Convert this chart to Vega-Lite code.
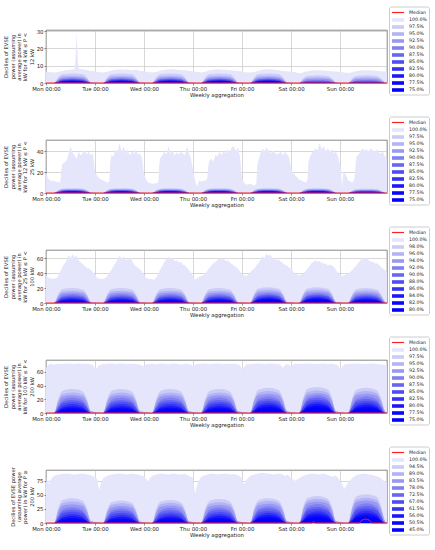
{
  "$schema": "https://vega.github.io/schema/vega-lite/v6.json",
  "padding": {"top": 5, "left": 3, "right": 2, "bottom": 2},
  "bounds": "flush",
  "spacing": 57,
  "config": {
    "font": "DejaVu Sans",
    "background": "white",
    "view": {"stroke": "#555555", "strokeWidth": 0.7},
    "axis": {"labelFontSize": 5.4, "labelColor": "#222222", "titleFontSize": 5.2, "titleFontWeight": "normal", "titleColor": "#222222", "tickSize": 2, "tickWidth": 0.6, "tickColor": "#444444", "gridColor": "#bdbdbd", "gridWidth": 0.6, "domain": false, "labelPadding": 1, "labelFlush": false, "labelOverlap": false, "zindex": 1},
    "legend": {"labelFontSize": 4.7, "labelColor": "#222222", "symbolSize": 36, "rowPadding": 1, "padding": 2, "labelOffset": 10, "titleFontSize": 4.5, "titlePadding": 3, "cornerRadius": 2, "labelLimit": 40}
  },
  "resolve": {"scale": {"color": "independent", "stroke": "independent"}, "legend": {"color": "independent", "stroke": "independent"}},
  "datasets": {
    "m0": [{"t": 0, "v": 0}, {"t": 167, "v": 0}],
    "m5": [{"t": 0, "v": 0}, {"t": 130, "v": 0}, {"t": 131, "v": 2.5}, {"t": 132, "v": 0}, {"t": 153.5, "v": 0}, {"t": 154.5, "v": 4.5}, {"t": 156.5, "v": 7}, {"t": 158.5, "v": 4.5}, {"t": 159.5, "v": 0}, {"t": 167, "v": 0}],
    "e1": [
      {"t":0,"v":6.5},{"t":2,"v":6.2},{"t":4,"v":6.0},{"t":6,"v":6.3},{"t":8,"v":7.0},{"t":10,"v":7.4},{"t":12,"v":7.6},{"t":14,"v":8.0},{"t":14.4,"v":12},{"t":15,"v":29},{"t":15.6,"v":12},{"t":16,"v":8.2},{"t":18,"v":7.8},{"t":20,"v":7.5},{"t":22,"v":7.0},
      {"t":24,"v":6.8},{"t":26,"v":6.2},{"t":28,"v":6.0},{"t":30,"v":6.5},{"t":32,"v":7.2},{"t":34,"v":7.6},{"t":36,"v":7.8},{"t":38,"v":7.6},{"t":40,"v":7.8},{"t":42,"v":7.4},{"t":44,"v":7.6},{"t":46,"v":7.0},
      {"t":48,"v":6.8},{"t":50,"v":6.3},{"t":52,"v":6.1},{"t":54,"v":6.4},{"t":56,"v":7.1},{"t":58,"v":7.5},{"t":60,"v":7.8},{"t":62,"v":8.0},{"t":64,"v":7.7},{"t":66,"v":7.5},{"t":68,"v":7.3},{"t":70,"v":7.0},
      {"t":72,"v":6.8},{"t":74,"v":6.3},{"t":76,"v":6.0},{"t":78,"v":6.5},{"t":80,"v":7.2},{"t":82,"v":7.6},{"t":84,"v":7.9},{"t":86,"v":7.7},{"t":88,"v":7.6},{"t":90,"v":7.4},{"t":92,"v":7.2},{"t":94,"v":7.0},
      {"t":96,"v":6.6},{"t":98,"v":6.1},{"t":100,"v":6.0},{"t":102,"v":6.4},{"t":104,"v":7.1},{"t":106,"v":7.6},{"t":108,"v":8.0},{"t":110,"v":7.8},{"t":112,"v":7.6},{"t":114,"v":7.3},{"t":116,"v":7.0},{"t":118,"v":6.8},
      {"t":120,"v":6.5},{"t":122,"v":6.2},{"t":124,"v":5.6},{"t":126,"v":6.0},{"t":128,"v":6.8},{"t":130,"v":7.2},{"t":132,"v":7.4},{"t":134,"v":7.3},{"t":136,"v":7.2},{"t":138,"v":7.0},{"t":140,"v":6.8},{"t":142,"v":6.6},
      {"t":144,"v":6.3},{"t":146,"v":6.0},{"t":148,"v":5.8},{"t":150,"v":6.2},{"t":152,"v":6.8},{"t":154,"v":7.2},{"t":156,"v":7.4},{"t":158,"v":7.3},{"t":160,"v":7.2},{"t":162,"v":7.0},{"t":164,"v":6.8},{"t":166,"v":6.6},{"t":167,"v":6.5}
    ],
    "e2": [
      {"t":0,"v":20},{"t":1,"v":14},{"t":2,"v":12},{"t":4,"v":11.5},{"t":6,"v":10.5},{"t":7,"v":10},{"t":7.5,"v":22},{"t":8,"v":28},{"t":9,"v":29},{"t":10,"v":31},{"t":11,"v":37},{"t":12,"v":45},{"t":13,"v":39},{"t":14,"v":36},{"t":15,"v":33},{"t":16,"v":40},{"t":17,"v":36},{"t":18,"v":39},{"t":19,"v":41},{"t":20,"v":37},{"t":21,"v":40},{"t":22,"v":36},{"t":23,"v":38},
      {"t":24,"v":20},{"t":25,"v":17},{"t":26,"v":14},{"t":28,"v":12},{"t":30,"v":10},{"t":31,"v":11},{"t":31.5,"v":30},{"t":32,"v":37},{"t":33,"v":35},{"t":34,"v":42},{"t":35,"v":39},{"t":36,"v":48},{"t":37,"v":40},{"t":38,"v":45},{"t":39,"v":38},{"t":40,"v":42},{"t":41,"v":36},{"t":42,"v":40},{"t":43,"v":38},{"t":44,"v":42},{"t":45,"v":37},{"t":46,"v":38},{"t":47,"v":34},
      {"t":48,"v":18},{"t":49,"v":13},{"t":50,"v":10},{"t":52,"v":9},{"t":54,"v":9.5},{"t":55,"v":10},{"t":55.5,"v":28},{"t":56,"v":34},{"t":57,"v":36},{"t":58,"v":40},{"t":59,"v":37},{"t":60,"v":45},{"t":61,"v":38},{"t":62,"v":41},{"t":63,"v":36},{"t":64,"v":39},{"t":65,"v":37},{"t":66,"v":40},{"t":67,"v":38},{"t":68,"v":36},{"t":69,"v":45},{"t":70,"v":38},{"t":71,"v":33},
      {"t":72,"v":22},{"t":73,"v":12},{"t":74,"v":6},{"t":75,"v":12},{"t":76,"v":11},{"t":78,"v":12},{"t":79,"v":14},{"t":79.5,"v":26},{"t":80,"v":31},{"t":81,"v":33},{"t":82,"v":30},{"t":83,"v":37},{"t":84,"v":35},{"t":85,"v":40},{"t":86,"v":36},{"t":87,"v":41},{"t":88,"v":38},{"t":89,"v":42},{"t":90,"v":39},{"t":91,"v":44},{"t":92,"v":45},{"t":93,"v":40},{"t":94,"v":44},{"t":95,"v":35},
      {"t":96,"v":14},{"t":97,"v":10},{"t":98,"v":8},{"t":100,"v":9},{"t":102,"v":7},{"t":103,"v":9},{"t":103.5,"v":27},{"t":104,"v":31},{"t":105,"v":38},{"t":106,"v":43},{"t":107,"v":40},{"t":108,"v":44},{"t":109,"v":41},{"t":110,"v":38},{"t":111,"v":41},{"t":112,"v":39},{"t":113,"v":37},{"t":114,"v":38},{"t":115,"v":40},{"t":116,"v":36},{"t":117,"v":40},{"t":118,"v":37},{"t":119,"v":35},
      {"t":120,"v":23},{"t":121,"v":20},{"t":122,"v":17},{"t":124,"v":13},{"t":126,"v":11},{"t":127,"v":10},{"t":128,"v":12},{"t":128.5,"v":30},{"t":129,"v":33},{"t":130,"v":38},{"t":131,"v":40},{"t":132,"v":43},{"t":133,"v":41},{"t":134,"v":48},{"t":135,"v":42},{"t":136,"v":45},{"t":137,"v":40},{"t":138,"v":43},{"t":139,"v":40},{"t":140,"v":42},{"t":141,"v":38},{"t":142,"v":40},{"t":143,"v":35},
      {"t":144,"v":28},{"t":144.5,"v":20},{"t":145,"v":4},{"t":145.5,"v":18},{"t":146,"v":21},{"t":148,"v":12},{"t":150,"v":10},{"t":151,"v":13},{"t":152,"v":35},{"t":153,"v":37},{"t":154,"v":40},{"t":155,"v":43},{"t":156,"v":41},{"t":157,"v":42},{"t":158,"v":40},{"t":159,"v":43},{"t":160,"v":41},{"t":161,"v":40},{"t":162,"v":42},{"t":163,"v":39},{"t":164,"v":38},{"t":165,"v":40},{"t":166,"v":35},{"t":167,"v":33}
    ],
    "e3": [
      {"t":0,"v":37},{"t":1,"v":34},{"t":3,"v":32},{"t":5,"v":33},{"t":6,"v":36},{"t":7,"v":42},{"t":8,"v":48},{"t":9,"v":52},{"t":10,"v":56},{"t":11,"v":64},{"t":12,"v":60},{"t":13,"v":65},{"t":14,"v":61},{"t":15,"v":63},{"t":16,"v":57},{"t":17,"v":54},{"t":18,"v":52},{"t":19,"v":49},{"t":20,"v":47},{"t":21,"v":46},{"t":22,"v":44},{"t":23,"v":41},
      {"t":24,"v":39},{"t":25,"v":33},{"t":27,"v":32},{"t":29,"v":33},{"t":30,"v":36},{"t":31,"v":40},{"t":32,"v":44},{"t":33,"v":49},{"t":34,"v":53},{"t":35,"v":58},{"t":36,"v":63},{"t":37,"v":59},{"t":38,"v":62},{"t":39,"v":57},{"t":40,"v":58},{"t":41,"v":61},{"t":42,"v":57},{"t":43,"v":52},{"t":44,"v":49},{"t":45,"v":47},{"t":46,"v":45},{"t":47,"v":42},
      {"t":48,"v":37},{"t":49,"v":33},{"t":51,"v":32},{"t":53,"v":31},{"t":54,"v":34},{"t":55,"v":39},{"t":56,"v":45},{"t":57,"v":50},{"t":58,"v":55},{"t":59,"v":58},{"t":60,"v":62},{"t":61,"v":59},{"t":62,"v":60},{"t":63,"v":56},{"t":64,"v":57},{"t":65,"v":54},{"t":66,"v":55},{"t":67,"v":51},{"t":68,"v":50},{"t":69,"v":47},{"t":70,"v":44},{"t":71,"v":40},
      {"t":72,"v":35},{"t":73,"v":31},{"t":75,"v":35},{"t":77,"v":37},{"t":78,"v":39},{"t":79,"v":43},{"t":80,"v":47},{"t":81,"v":50},{"t":82,"v":53},{"t":83,"v":55},{"t":84,"v":57},{"t":85,"v":60},{"t":86,"v":58},{"t":87,"v":59},{"t":88,"v":56},{"t":89,"v":57},{"t":90,"v":54},{"t":91,"v":52},{"t":92,"v":50},{"t":93,"v":48},{"t":94,"v":46},{"t":95,"v":42},
      {"t":96,"v":39},{"t":97,"v":37},{"t":98,"v":36},{"t":99,"v":38},{"t":100,"v":41},{"t":101,"v":44},{"t":102,"v":46},{"t":103,"v":50},{"t":104,"v":53},{"t":105,"v":57},{"t":106,"v":62},{"t":107,"v":60},{"t":108,"v":66},{"t":109,"v":63},{"t":110,"v":64},{"t":111,"v":60},{"t":112,"v":59},{"t":113,"v":57},{"t":114,"v":58},{"t":115,"v":55},{"t":116,"v":53},{"t":117,"v":51},{"t":118,"v":50},{"t":119,"v":47},
      {"t":120,"v":46},{"t":121,"v":42},{"t":122,"v":39},{"t":124,"v":37},{"t":126,"v":39},{"t":127,"v":42},{"t":128,"v":46},{"t":129,"v":49},{"t":130,"v":53},{"t":131,"v":55},{"t":132,"v":57},{"t":133,"v":55},{"t":134,"v":56},{"t":135,"v":53},{"t":136,"v":53},{"t":137,"v":52},{"t":138,"v":50},{"t":139,"v":51},{"t":140,"v":50},{"t":141,"v":48},{"t":142,"v":44},{"t":143,"v":40},
      {"t":144,"v":37},{"t":145,"v":36},{"t":146,"v":37},{"t":148,"v":39},{"t":150,"v":44},{"t":151,"v":47},{"t":152,"v":50},{"t":153,"v":54},{"t":154,"v":57},{"t":155,"v":60},{"t":156,"v":59},{"t":157,"v":61},{"t":158,"v":57},{"t":159,"v":55},{"t":160,"v":55},{"t":161,"v":53},{"t":162,"v":53},{"t":163,"v":51},{"t":164,"v":48},{"t":165,"v":46},{"t":166,"v":44},{"t":167,"v":41}
    ],
    "e4": [
      {"t":0,"v":66},{"t":1,"v":70},{"t":2,"v":71.5},{"t":4,"v":71},{"t":6,"v":72},{"t":8,"v":71.5},{"t":10,"v":72.5},{"t":12,"v":72},{"t":14,"v":71.5},{"t":16,"v":72.5},{"t":18,"v":71.5},{"t":20,"v":72},{"t":22,"v":71},{"t":23,"v":70.5},
      {"t":24,"v":64},{"t":25,"v":66},{"t":26,"v":70},{"t":28,"v":71.5},{"t":30,"v":72},{"t":32,"v":72.5},{"t":34,"v":71.5},{"t":36,"v":72.5},{"t":38,"v":72},{"t":40,"v":71.5},{"t":42,"v":72},{"t":44,"v":71.5},{"t":46,"v":70.5},
      {"t":48,"v":68},{"t":49,"v":71},{"t":50,"v":71.5},{"t":52,"v":72},{"t":54,"v":71},{"t":56,"v":72.5},{"t":58,"v":72},{"t":60,"v":71.5},{"t":62,"v":72.5},{"t":64,"v":72},{"t":66,"v":71},{"t":68,"v":72},{"t":70,"v":71.5},{"t":71,"v":70.5},
      {"t":72,"v":69},{"t":73,"v":71},{"t":74,"v":71.5},{"t":76,"v":72},{"t":78,"v":72.5},{"t":80,"v":71.5},{"t":82,"v":72},{"t":84,"v":72.5},{"t":86,"v":71.5},{"t":88,"v":72},{"t":90,"v":71.5},{"t":92,"v":72},{"t":94,"v":71},{"t":95,"v":70},
      {"t":96,"v":63},{"t":97,"v":67},{"t":98,"v":71},{"t":100,"v":71.5},{"t":102,"v":72},{"t":104,"v":72.5},{"t":106,"v":72},{"t":108,"v":71.5},{"t":110,"v":72.5},{"t":112,"v":72},{"t":114,"v":71.5},{"t":115,"v":70},{"t":116,"v":66},{"t":117,"v":70},{"t":118,"v":71.5},{"t":119,"v":70.5},
      {"t":120,"v":68},{"t":121,"v":71},{"t":122,"v":72},{"t":124,"v":71.5},{"t":126,"v":72},{"t":128,"v":72.5},{"t":130,"v":72},{"t":132,"v":71.5},{"t":134,"v":72},{"t":136,"v":72.5},{"t":138,"v":71.5},{"t":140,"v":72},{"t":142,"v":71},{"t":143,"v":70},
      {"t":144,"v":64},{"t":145,"v":67},{"t":146,"v":71},{"t":148,"v":71.5},{"t":150,"v":72},{"t":152,"v":72.5},{"t":154,"v":72},{"t":156,"v":71.5},{"t":158,"v":72},{"t":160,"v":72.5},{"t":162,"v":71.5},{"t":164,"v":71},{"t":166,"v":70.5},{"t":167,"v":69}
    ],
    "e5": [
      {"t":0,"v":80},{"t":0.5,"v":70},{"t":1,"v":78},{"t":1.5,"v":66},{"t":2,"v":75},{"t":3,"v":80},{"t":4,"v":84},{"t":6,"v":86},{"t":8,"v":87},{"t":10,"v":88},{"t":12,"v":87},{"t":14,"v":86},{"t":16,"v":87},{"t":18,"v":88},{"t":20,"v":86},{"t":22,"v":85},{"t":23,"v":83},
      {"t":24,"v":82},{"t":25,"v":78},{"t":26,"v":58},{"t":27,"v":72},{"t":28,"v":80},{"t":30,"v":84},{"t":32,"v":86},{"t":34,"v":87},{"t":36,"v":88},{"t":38,"v":87},{"t":40,"v":86},{"t":42,"v":88},{"t":44,"v":87},{"t":46,"v":85},{"t":47,"v":84},
      {"t":48,"v":83},{"t":49,"v":78},{"t":50,"v":74},{"t":51,"v":80},{"t":52,"v":84},{"t":54,"v":86},{"t":56,"v":88},{"t":58,"v":87},{"t":60,"v":86},{"t":62,"v":88},{"t":64,"v":87},{"t":66,"v":86},{"t":68,"v":87},{"t":70,"v":84},{"t":71,"v":82},
      {"t":72,"v":80},{"t":73,"v":52},{"t":74,"v":68},{"t":75,"v":76},{"t":76,"v":82},{"t":78,"v":85},{"t":80,"v":87},{"t":82,"v":88},{"t":84,"v":86},{"t":86,"v":87},{"t":88,"v":88},{"t":90,"v":86},{"t":92,"v":87},{"t":94,"v":85},{"t":95,"v":83},
      {"t":96,"v":78},{"t":97,"v":68},{"t":98,"v":76},{"t":99,"v":80},{"t":100,"v":84},{"t":102,"v":86},{"t":104,"v":88},{"t":106,"v":89},{"t":108,"v":88},{"t":110,"v":87},{"t":112,"v":86},{"t":114,"v":88},{"t":116,"v":86},{"t":117,"v":83},{"t":118,"v":86},{"t":119,"v":84},
      {"t":120,"v":79},{"t":121,"v":77},{"t":122,"v":75},{"t":124,"v":80},{"t":126,"v":84},{"t":128,"v":86},{"t":130,"v":88},{"t":132,"v":87},{"t":134,"v":86},{"t":136,"v":88},{"t":138,"v":85},{"t":140,"v":82},{"t":142,"v":84},{"t":143,"v":80},
      {"t":144,"v":74},{"t":145,"v":70},{"t":146,"v":60},{"t":147,"v":66},{"t":148,"v":72},{"t":150,"v":80},{"t":152,"v":85},{"t":154,"v":87},{"t":156,"v":88},{"t":158,"v":86},{"t":160,"v":85},{"t":162,"v":83},{"t":164,"v":80},{"t":165,"v":76},{"t":166,"v":74},{"t":167,"v":73}
    ],
    "b1": [
      {"t":0,"b":0,"c":0,"d":0,"e":0,"f":0,"g":0,"h":0,"i":0,"j":0,"k":0},
      {"t":4,"b":0,"c":0,"d":0,"e":0,"f":0,"g":0,"h":0,"i":0,"j":0,"k":0},
      {"t":6,"b":3.3,"c":2.5,"d":2,"e":1.3,"f":1.1,"g":0.9,"h":0.5,"i":0.4,"j":0.3,"k":0.2},
      {"t":8,"b":5.1,"c":3.9,"d":3.1,"e":2.4,"f":2,"g":1.7,"h":1.3,"i":1.1,"j":0.8,"k":0.6},
      {"t":13,"b":5.5,"c":4.2,"d":3.4,"e":2.8,"f":2.4,"g":2,"h":1.7,"i":1.4,"j":1.1,"k":0.8},
      {"t":18,"b":5,"c":3.8,"d":3.1,"e":2.3,"f":2,"g":1.6,"h":1.2,"i":1,"j":0.8,"k":0.6},
      {"t":20,"b":3.3,"c":2.5,"d":2,"e":1.3,"f":1.1,"g":0.9,"h":0.5,"i":0.4,"j":0.3,"k":0.2},
      {"t":22,"b":0.4,"c":0.3,"d":0.3,"e":0,"f":0,"g":0,"h":0,"i":0,"j":0,"k":0},
      {"t":28,"b":0,"c":0,"d":0,"e":0,"f":0,"g":0,"h":0,"i":0,"j":0,"k":0},
      {"t":30,"b":3.3,"c":2.5,"d":2,"e":1.3,"f":1.1,"g":0.9,"h":0.5,"i":0.4,"j":0.3,"k":0.2},
      {"t":32,"b":5.1,"c":3.9,"d":3.1,"e":2.4,"f":2,"g":1.7,"h":1.3,"i":1.1,"j":0.8,"k":0.6},
      {"t":37,"b":5.5,"c":4.2,"d":3.4,"e":2.8,"f":2.4,"g":2,"h":1.7,"i":1.4,"j":1.1,"k":0.8},
      {"t":42,"b":5,"c":3.8,"d":3.1,"e":2.3,"f":2,"g":1.6,"h":1.2,"i":1,"j":0.8,"k":0.6},
      {"t":44,"b":3.3,"c":2.5,"d":2,"e":1.3,"f":1.1,"g":0.9,"h":0.5,"i":0.4,"j":0.3,"k":0.2},
      {"t":46,"b":0.4,"c":0.3,"d":0.3,"e":0,"f":0,"g":0,"h":0,"i":0,"j":0,"k":0},
      {"t":52,"b":0,"c":0,"d":0,"e":0,"f":0,"g":0,"h":0,"i":0,"j":0,"k":0},
      {"t":54,"b":3.3,"c":2.5,"d":2,"e":1.3,"f":1.1,"g":0.9,"h":0.5,"i":0.4,"j":0.3,"k":0.2},
      {"t":56,"b":5.1,"c":3.9,"d":3.1,"e":2.4,"f":2,"g":1.7,"h":1.3,"i":1.1,"j":0.8,"k":0.6},
      {"t":61,"b":5.5,"c":4.2,"d":3.4,"e":2.8,"f":2.4,"g":2,"h":1.7,"i":1.4,"j":1.1,"k":0.8},
      {"t":66,"b":5,"c":3.8,"d":3.1,"e":2.3,"f":2,"g":1.6,"h":1.2,"i":1,"j":0.8,"k":0.6},
      {"t":68,"b":3.3,"c":2.5,"d":2,"e":1.3,"f":1.1,"g":0.9,"h":0.5,"i":0.4,"j":0.3,"k":0.2},
      {"t":70,"b":0.4,"c":0.3,"d":0.3,"e":0,"f":0,"g":0,"h":0,"i":0,"j":0,"k":0},
      {"t":76,"b":0,"c":0,"d":0,"e":0,"f":0,"g":0,"h":0,"i":0,"j":0,"k":0},
      {"t":78,"b":3.3,"c":2.5,"d":2,"e":1.3,"f":1.1,"g":0.9,"h":0.5,"i":0.4,"j":0.3,"k":0.2},
      {"t":80,"b":5.1,"c":3.9,"d":3.1,"e":2.4,"f":2,"g":1.7,"h":1.3,"i":1.1,"j":0.8,"k":0.6},
      {"t":85,"b":5.5,"c":4.2,"d":3.4,"e":2.8,"f":2.4,"g":2,"h":1.7,"i":1.4,"j":1.1,"k":0.8},
      {"t":90,"b":5,"c":3.8,"d":3.1,"e":2.3,"f":2,"g":1.6,"h":1.2,"i":1,"j":0.8,"k":0.6},
      {"t":92,"b":3.3,"c":2.5,"d":2,"e":1.3,"f":1.1,"g":0.9,"h":0.5,"i":0.4,"j":0.3,"k":0.2},
      {"t":94,"b":0.4,"c":0.3,"d":0.3,"e":0,"f":0,"g":0,"h":0,"i":0,"j":0,"k":0},
      {"t":100,"b":0,"c":0,"d":0,"e":0,"f":0,"g":0,"h":0,"i":0,"j":0,"k":0},
      {"t":102,"b":3.3,"c":2.5,"d":2,"e":1.3,"f":1.1,"g":0.9,"h":0.5,"i":0.4,"j":0.3,"k":0.2},
      {"t":104,"b":5.1,"c":3.9,"d":3.1,"e":2.4,"f":2,"g":1.7,"h":1.3,"i":1.1,"j":0.8,"k":0.6},
      {"t":109,"b":5.5,"c":4.2,"d":3.4,"e":2.8,"f":2.4,"g":2,"h":1.7,"i":1.4,"j":1.1,"k":0.8},
      {"t":114,"b":5,"c":3.8,"d":3.1,"e":2.3,"f":2,"g":1.6,"h":1.2,"i":1,"j":0.8,"k":0.6},
      {"t":116,"b":3.3,"c":2.5,"d":2,"e":1.3,"f":1.1,"g":0.9,"h":0.5,"i":0.4,"j":0.3,"k":0.2},
      {"t":118,"b":0.4,"c":0.3,"d":0.3,"e":0,"f":0,"g":0,"h":0,"i":0,"j":0,"k":0},
      {"t":124,"b":0,"c":0,"d":0,"e":0,"f":0,"g":0,"h":0,"i":0,"j":0,"k":0},
      {"t":126,"b":2.7,"c":2,"d":1.5,"e":0.8,"f":0.6,"g":0.4,"h":0.2,"i":0.1,"j":0.1,"k":0},
      {"t":128,"b":4.1,"c":3,"d":2.3,"e":1.5,"f":1.1,"g":0.8,"h":0.5,"i":0.3,"j":0.2,"k":0.1},
      {"t":133,"b":4.5,"c":3.3,"d":2.5,"e":1.8,"f":1.3,"g":0.9,"h":0.6,"i":0.4,"j":0.25,"k":0.1},
      {"t":138,"b":4.1,"c":3,"d":2.3,"e":1.5,"f":1.1,"g":0.7,"h":0.4,"i":0.3,"j":0.2,"k":0.1},
      {"t":140,"b":2.7,"c":2,"d":1.5,"e":0.8,"f":0.6,"g":0.4,"h":0.2,"i":0.1,"j":0.1,"k":0},
      {"t":142,"b":0.4,"c":0.3,"d":0.2,"e":0,"f":0,"g":0,"h":0,"i":0,"j":0,"k":0},
      {"t":148,"b":0,"c":0,"d":0,"e":0,"f":0,"g":0,"h":0,"i":0,"j":0,"k":0},
      {"t":150,"b":2.7,"c":2,"d":1.5,"e":0.8,"f":0.6,"g":0.4,"h":0.2,"i":0.1,"j":0.1,"k":0},
      {"t":152,"b":4.1,"c":3,"d":2.3,"e":1.5,"f":1.1,"g":0.8,"h":0.5,"i":0.3,"j":0.2,"k":0.1},
      {"t":157,"b":4.5,"c":3.3,"d":2.5,"e":1.8,"f":1.3,"g":0.9,"h":0.6,"i":0.4,"j":0.25,"k":0.1},
      {"t":162,"b":4.1,"c":3,"d":2.3,"e":1.5,"f":1.1,"g":0.7,"h":0.4,"i":0.3,"j":0.2,"k":0.1},
      {"t":164,"b":2.7,"c":2,"d":1.5,"e":0.8,"f":0.6,"g":0.4,"h":0.2,"i":0.1,"j":0.1,"k":0},
      {"t":166,"b":0.4,"c":0.3,"d":0.2,"e":0,"f":0,"g":0,"h":0,"i":0,"j":0,"k":0},
      {"t":167,"b":0,"c":0,"d":0,"e":0,"f":0,"g":0,"h":0,"i":0,"j":0,"k":0}
    ],
    "b2": [
      {"t":0,"b":0,"c":0,"d":0,"e":0,"f":0,"g":0,"h":0,"i":0,"j":0,"k":0},
      {"t":4,"b":0,"c":0,"d":0,"e":0,"f":0,"g":0,"h":0,"i":0,"j":0,"k":0},
      {"t":6,"b":2.7,"c":2.3,"d":2,"e":1.4,"f":1.2,"g":1,"h":0.6,"i":0.5,"j":0.4,"k":0.3},
      {"t":8,"b":4.1,"c":3.6,"d":3.1,"e":2.6,"f":2.2,"g":2,"h":1.5,"i":1.3,"j":1.1,"k":0.8},
      {"t":13,"b":4.5,"c":3.9,"d":3.4,"e":3,"f":2.6,"g":2.3,"h":2,"i":1.7,"j":1.4,"k":1.1},
      {"t":18,"b":4.1,"c":3.5,"d":3.1,"e":2.5,"f":2.1,"g":1.9,"h":1.4,"i":1.2,"j":1,"k":0.8},
      {"t":20,"b":2.7,"c":2.3,"d":2,"e":1.4,"f":1.2,"g":1,"h":0.6,"i":0.5,"j":0.4,"k":0.3},
      {"t":22,"b":0.4,"c":0.3,"d":0.3,"e":0,"f":0,"g":0,"h":0,"i":0,"j":0,"k":0},
      {"t":28,"b":0,"c":0,"d":0,"e":0,"f":0,"g":0,"h":0,"i":0,"j":0,"k":0},
      {"t":30,"b":2.7,"c":2.3,"d":2,"e":1.4,"f":1.2,"g":1,"h":0.6,"i":0.5,"j":0.4,"k":0.3},
      {"t":32,"b":4.1,"c":3.6,"d":3.1,"e":2.6,"f":2.2,"g":2,"h":1.5,"i":1.3,"j":1.1,"k":0.8},
      {"t":37,"b":4.5,"c":3.9,"d":3.4,"e":3,"f":2.6,"g":2.3,"h":2,"i":1.7,"j":1.4,"k":1.1},
      {"t":42,"b":4.1,"c":3.5,"d":3.1,"e":2.5,"f":2.1,"g":1.9,"h":1.4,"i":1.2,"j":1,"k":0.8},
      {"t":44,"b":2.7,"c":2.3,"d":2,"e":1.4,"f":1.2,"g":1,"h":0.6,"i":0.5,"j":0.4,"k":0.3},
      {"t":46,"b":0.4,"c":0.3,"d":0.3,"e":0,"f":0,"g":0,"h":0,"i":0,"j":0,"k":0},
      {"t":52,"b":0,"c":0,"d":0,"e":0,"f":0,"g":0,"h":0,"i":0,"j":0,"k":0},
      {"t":54,"b":2.7,"c":2.3,"d":2,"e":1.4,"f":1.2,"g":1,"h":0.6,"i":0.5,"j":0.4,"k":0.3},
      {"t":56,"b":4.1,"c":3.6,"d":3.1,"e":2.6,"f":2.2,"g":2,"h":1.5,"i":1.3,"j":1.1,"k":0.8},
      {"t":61,"b":4.5,"c":3.9,"d":3.4,"e":3,"f":2.6,"g":2.3,"h":2,"i":1.7,"j":1.4,"k":1.1},
      {"t":66,"b":4.1,"c":3.5,"d":3.1,"e":2.5,"f":2.1,"g":1.9,"h":1.4,"i":1.2,"j":1,"k":0.8},
      {"t":68,"b":2.7,"c":2.3,"d":2,"e":1.4,"f":1.2,"g":1,"h":0.6,"i":0.5,"j":0.4,"k":0.3},
      {"t":70,"b":0.4,"c":0.3,"d":0.3,"e":0,"f":0,"g":0,"h":0,"i":0,"j":0,"k":0},
      {"t":76,"b":0,"c":0,"d":0,"e":0,"f":0,"g":0,"h":0,"i":0,"j":0,"k":0},
      {"t":78,"b":2.7,"c":2.3,"d":2,"e":1.4,"f":1.2,"g":1,"h":0.6,"i":0.5,"j":0.4,"k":0.3},
      {"t":80,"b":4.1,"c":3.6,"d":3.1,"e":2.6,"f":2.2,"g":2,"h":1.5,"i":1.3,"j":1.1,"k":0.8},
      {"t":85,"b":4.5,"c":3.9,"d":3.4,"e":3,"f":2.6,"g":2.3,"h":2,"i":1.7,"j":1.4,"k":1.1},
      {"t":90,"b":4.1,"c":3.5,"d":3.1,"e":2.5,"f":2.1,"g":1.9,"h":1.4,"i":1.2,"j":1,"k":0.8},
      {"t":92,"b":2.7,"c":2.3,"d":2,"e":1.4,"f":1.2,"g":1,"h":0.6,"i":0.5,"j":0.4,"k":0.3},
      {"t":94,"b":0.4,"c":0.3,"d":0.3,"e":0,"f":0,"g":0,"h":0,"i":0,"j":0,"k":0},
      {"t":100,"b":0,"c":0,"d":0,"e":0,"f":0,"g":0,"h":0,"i":0,"j":0,"k":0},
      {"t":102,"b":2.7,"c":2.3,"d":2,"e":1.4,"f":1.2,"g":1,"h":0.6,"i":0.5,"j":0.4,"k":0.3},
      {"t":104,"b":4.1,"c":3.6,"d":3.1,"e":2.6,"f":2.2,"g":2,"h":1.5,"i":1.3,"j":1.1,"k":0.8},
      {"t":109,"b":4.5,"c":3.9,"d":3.4,"e":3,"f":2.6,"g":2.3,"h":2,"i":1.7,"j":1.4,"k":1.1},
      {"t":114,"b":4.1,"c":3.5,"d":3.1,"e":2.5,"f":2.1,"g":1.9,"h":1.4,"i":1.2,"j":1,"k":0.8},
      {"t":116,"b":2.7,"c":2.3,"d":2,"e":1.4,"f":1.2,"g":1,"h":0.6,"i":0.5,"j":0.4,"k":0.3},
      {"t":118,"b":0.4,"c":0.3,"d":0.3,"e":0,"f":0,"g":0,"h":0,"i":0,"j":0,"k":0},
      {"t":124,"b":0,"c":0,"d":0,"e":0,"f":0,"g":0,"h":0,"i":0,"j":0,"k":0},
      {"t":126,"b":2.7,"c":2.3,"d":2,"e":1.4,"f":1.2,"g":1,"h":0.6,"i":0.5,"j":0.4,"k":0.3},
      {"t":128,"b":4.1,"c":3.6,"d":3.1,"e":2.6,"f":2.2,"g":2,"h":1.5,"i":1.3,"j":1.1,"k":0.8},
      {"t":133,"b":4.5,"c":3.9,"d":3.4,"e":3,"f":2.6,"g":2.3,"h":2,"i":1.7,"j":1.4,"k":1.1},
      {"t":138,"b":4.1,"c":3.5,"d":3.1,"e":2.5,"f":2.1,"g":1.9,"h":1.4,"i":1.2,"j":1,"k":0.8},
      {"t":140,"b":2.7,"c":2.3,"d":2,"e":1.4,"f":1.2,"g":1,"h":0.6,"i":0.5,"j":0.4,"k":0.3},
      {"t":142,"b":0.4,"c":0.3,"d":0.3,"e":0,"f":0,"g":0,"h":0,"i":0,"j":0,"k":0},
      {"t":148,"b":0,"c":0,"d":0,"e":0,"f":0,"g":0,"h":0,"i":0,"j":0,"k":0},
      {"t":150,"b":2.4,"c":2,"d":1.7,"e":1.1,"f":0.9,"g":0.8,"h":0.5,"i":0.4,"j":0.3,"k":0.2},
      {"t":152,"b":3.7,"c":3.1,"d":2.7,"e":2.1,"f":1.8,"g":1.5,"h":1.1,"i":0.9,"j":0.7,"k":0.5},
      {"t":157,"b":4,"c":3.4,"d":2.9,"e":2.5,"f":2.1,"g":1.8,"h":1.5,"i":1.2,"j":0.9,"k":0.6},
      {"t":162,"b":3.6,"c":3.1,"d":2.6,"e":2.1,"f":1.7,"g":1.5,"h":1.1,"i":0.9,"j":0.6,"k":0.4},
      {"t":164,"b":2.4,"c":2,"d":1.7,"e":1.1,"f":0.9,"g":0.8,"h":0.4,"i":0.3,"j":0.3,"k":0.2},
      {"t":166,"b":0.3,"c":0.3,"d":0.2,"e":0,"f":0,"g":0,"h":0,"i":0,"j":0,"k":0},
      {"t":167,"b":0,"c":0,"d":0,"e":0,"f":0,"g":0,"h":0,"i":0,"j":0,"k":0}
    ],
    "b3": [
      {"t":0,"b":0,"c":0,"d":0,"e":0,"f":0,"g":0,"h":0,"i":0,"j":0,"k":0},
      {"t":4,"b":0,"c":0,"d":0,"e":0,"f":0,"g":0,"h":0,"i":0,"j":0,"k":0},
      {"t":6,"b":12,"c":9.9,"d":8.4,"e":5.4,"f":4.5,"g":3.8,"h":2.1,"i":1.7,"j":1.2,"k":0.8},
      {"t":8,"b":18.4,"c":15.2,"d":12.9,"e":10.2,"f":8.5,"g":7.2,"h":5.3,"i":4.1,"j":3,"k":1.9},
      {"t":13,"b":20,"c":16.5,"d":14,"e":12,"f":10,"g":8.5,"h":7,"i":5.5,"j":4,"k":2.5},
      {"t":18,"b":18,"c":14.9,"d":12.6,"e":9.8,"f":8.2,"g":7,"h":5,"i":4,"j":2.9,"k":1.8},
      {"t":20,"b":12,"c":9.9,"d":8.4,"e":5.4,"f":4.5,"g":3.8,"h":2,"i":1.5,"j":1.1,"k":0.7},
      {"t":22,"b":1.6,"c":1.3,"d":1.1,"e":0,"f":0,"g":0,"h":0,"i":0,"j":0,"k":0},
      {"t":28,"b":0,"c":0,"d":0,"e":0,"f":0,"g":0,"h":0,"i":0,"j":0,"k":0},
      {"t":30,"b":12,"c":9.9,"d":8.4,"e":5.4,"f":4.5,"g":3.8,"h":2.1,"i":1.7,"j":1.2,"k":0.8},
      {"t":32,"b":18.4,"c":15.2,"d":12.9,"e":10.2,"f":8.5,"g":7.2,"h":5.3,"i":4.1,"j":3,"k":1.9},
      {"t":37,"b":20,"c":16.5,"d":14,"e":12,"f":10,"g":8.5,"h":7,"i":5.5,"j":4,"k":2.5},
      {"t":42,"b":18,"c":14.9,"d":12.6,"e":9.8,"f":8.2,"g":7,"h":5,"i":4,"j":2.9,"k":1.8},
      {"t":44,"b":12,"c":9.9,"d":8.4,"e":5.4,"f":4.5,"g":3.8,"h":2,"i":1.5,"j":1.1,"k":0.7},
      {"t":46,"b":1.6,"c":1.3,"d":1.1,"e":0,"f":0,"g":0,"h":0,"i":0,"j":0,"k":0},
      {"t":52,"b":0,"c":0,"d":0,"e":0,"f":0,"g":0,"h":0,"i":0,"j":0,"k":0},
      {"t":54,"b":12,"c":9.9,"d":8.4,"e":5.4,"f":4.5,"g":3.8,"h":2.1,"i":1.7,"j":1.2,"k":0.8},
      {"t":56,"b":18.4,"c":15.2,"d":12.9,"e":10.2,"f":8.5,"g":7.2,"h":5.3,"i":4.1,"j":3,"k":1.9},
      {"t":61,"b":20,"c":16.5,"d":14,"e":12,"f":10,"g":8.5,"h":7,"i":5.5,"j":4,"k":2.5},
      {"t":66,"b":18,"c":14.9,"d":12.6,"e":9.8,"f":8.2,"g":7,"h":5,"i":4,"j":2.9,"k":1.8},
      {"t":68,"b":12,"c":9.9,"d":8.4,"e":5.4,"f":4.5,"g":3.8,"h":2,"i":1.5,"j":1.1,"k":0.7},
      {"t":70,"b":1.6,"c":1.3,"d":1.1,"e":0,"f":0,"g":0,"h":0,"i":0,"j":0,"k":0},
      {"t":76,"b":0,"c":0,"d":0,"e":0,"f":0,"g":0,"h":0,"i":0,"j":0,"k":0},
      {"t":78,"b":12,"c":9.9,"d":8.4,"e":5.4,"f":4.5,"g":3.8,"h":2.1,"i":1.7,"j":1.2,"k":0.8},
      {"t":80,"b":18.4,"c":15.2,"d":12.9,"e":10.2,"f":8.5,"g":7.2,"h":5.3,"i":4.1,"j":3,"k":1.9},
      {"t":85,"b":20,"c":16.5,"d":14,"e":12,"f":10,"g":8.5,"h":7,"i":5.5,"j":4,"k":2.5},
      {"t":90,"b":18,"c":14.9,"d":12.6,"e":9.8,"f":8.2,"g":7,"h":5,"i":4,"j":2.9,"k":1.8},
      {"t":92,"b":12,"c":9.9,"d":8.4,"e":5.4,"f":4.5,"g":3.8,"h":2,"i":1.5,"j":1.1,"k":0.7},
      {"t":94,"b":1.6,"c":1.3,"d":1.1,"e":0,"f":0,"g":0,"h":0,"i":0,"j":0,"k":0},
      {"t":100,"b":0,"c":0,"d":0,"e":0,"f":0,"g":0,"h":0,"i":0,"j":0,"k":0},
      {"t":102,"b":12.6,"c":10.8,"d":9.3,"e":6.1,"f":5.2,"g":4.5,"h":2.6,"i":2.1,"j":1.7,"k":1.2},
      {"t":104,"b":19.3,"c":16.6,"d":14.3,"e":11.5,"f":9.8,"g":8.5,"h":6.4,"i":5.3,"j":4.1,"k":3},
      {"t":109,"b":21,"c":18,"d":15.5,"e":13.5,"f":11.5,"g":10,"h":8.5,"i":7,"j":5.5,"k":4},
      {"t":114,"b":18.9,"c":16.2,"d":14,"e":11.1,"f":9.4,"g":8.2,"h":6.1,"i":5,"j":4,"k":2.9},
      {"t":116,"b":12.6,"c":10.8,"d":9.3,"e":6.1,"f":5.2,"g":4.5,"h":2.4,"i":2,"j":1.5,"k":1.1},
      {"t":118,"b":1.7,"c":1.4,"d":1.2,"e":0,"f":0,"g":0,"h":0,"i":0,"j":0,"k":0},
      {"t":124,"b":0,"c":0,"d":0,"e":0,"f":0,"g":0,"h":0,"i":0,"j":0,"k":0},
      {"t":126,"b":12.6,"c":10.8,"d":9.3,"e":6.1,"f":5.2,"g":4.5,"h":2.6,"i":2.1,"j":1.7,"k":1.2},
      {"t":128,"b":19.3,"c":16.6,"d":14.3,"e":11.5,"f":9.8,"g":8.5,"h":6.4,"i":5.3,"j":4.1,"k":3},
      {"t":133,"b":21,"c":18,"d":15.5,"e":13.5,"f":11.5,"g":10,"h":8.5,"i":7,"j":5.5,"k":4},
      {"t":138,"b":18.9,"c":16.2,"d":14,"e":11.1,"f":9.4,"g":8.2,"h":6.1,"i":5,"j":4,"k":2.9},
      {"t":140,"b":12.6,"c":10.8,"d":9.3,"e":6.1,"f":5.2,"g":4.5,"h":2.4,"i":2,"j":1.5,"k":1.1},
      {"t":142,"b":1.7,"c":1.4,"d":1.2,"e":0,"f":0,"g":0,"h":0,"i":0,"j":0,"k":0},
      {"t":148,"b":0,"c":0,"d":0,"e":0,"f":0,"g":0,"h":0,"i":0,"j":0,"k":0},
      {"t":150,"b":12,"c":10.2,"d":8.7,"e":5.6,"f":4.7,"g":4.1,"h":2.3,"i":1.8,"j":1.4,"k":0.9},
      {"t":152,"b":18.4,"c":15.6,"d":13.3,"e":10.6,"f":8.9,"g":7.7,"h":5.6,"i":4.5,"j":3.4,"k":2.3},
      {"t":157,"b":20,"c":17,"d":14.5,"e":12.5,"f":10.5,"g":9,"h":7.5,"i":6,"j":4.5,"k":3},
      {"t":162,"b":18,"c":15.3,"d":13.1,"e":10.3,"f":8.6,"g":7.4,"h":5.4,"i":4.3,"j":3.2,"k":2.2},
      {"t":164,"b":12,"c":10.2,"d":8.7,"e":5.6,"f":4.7,"g":4.1,"h":2.1,"i":1.7,"j":1.3,"k":0.8},
      {"t":166,"b":1.6,"c":1.4,"d":1.2,"e":0,"f":0,"g":0,"h":0,"i":0,"j":0,"k":0},
      {"t":167,"b":0,"c":0,"d":0,"e":0,"f":0,"g":0,"h":0,"i":0,"j":0,"k":0}
    ],
    "b4": [
      {"t":0,"b":0,"c":0,"d":0,"e":0,"f":0,"g":0,"h":0,"i":0,"j":0,"k":0},
      {"t":4,"b":0,"c":0,"d":0,"e":0,"f":0,"g":0,"h":0,"i":0,"j":0,"k":0},
      {"t":6,"b":21,"c":18,"d":15.6,"e":10.1,"f":8.6,"g":7.2,"h":3.9,"i":3,"j":2.3,"k":1.5},
      {"t":8,"b":32.2,"c":27.6,"d":23.9,"e":19.1,"f":16.2,"g":13.6,"h":9.8,"i":7.5,"j":5.6,"k":3.8},
      {"t":13,"b":35,"c":30,"d":26,"e":22.5,"f":19,"g":16,"h":13,"i":10,"j":7.5,"k":5},
      {"t":18,"b":31.5,"c":27,"d":23.4,"e":18.5,"f":15.6,"g":13.1,"h":9.4,"i":7.2,"j":5.4,"k":3.6},
      {"t":20,"b":21,"c":18,"d":15.6,"e":10.1,"f":8.6,"g":7.2,"h":3.6,"i":2.8,"j":2.1,"k":1.4},
      {"t":22,"b":2.8,"c":2.4,"d":2.1,"e":0,"f":0,"g":0,"h":0,"i":0,"j":0,"k":0},
      {"t":28,"b":0,"c":0,"d":0,"e":0,"f":0,"g":0,"h":0,"i":0,"j":0,"k":0},
      {"t":30,"b":21,"c":18,"d":15.6,"e":10.1,"f":8.6,"g":7.2,"h":3.9,"i":3,"j":2.3,"k":1.5},
      {"t":32,"b":32.2,"c":27.6,"d":23.9,"e":19.1,"f":16.2,"g":13.6,"h":9.8,"i":7.5,"j":5.6,"k":3.8},
      {"t":37,"b":35,"c":30,"d":26,"e":22.5,"f":19,"g":16,"h":13,"i":10,"j":7.5,"k":5},
      {"t":42,"b":31.5,"c":27,"d":23.4,"e":18.5,"f":15.6,"g":13.1,"h":9.4,"i":7.2,"j":5.4,"k":3.6},
      {"t":44,"b":21,"c":18,"d":15.6,"e":10.1,"f":8.6,"g":7.2,"h":3.6,"i":2.8,"j":2.1,"k":1.4},
      {"t":46,"b":2.8,"c":2.4,"d":2.1,"e":0,"f":0,"g":0,"h":0,"i":0,"j":0,"k":0},
      {"t":52,"b":0,"c":0,"d":0,"e":0,"f":0,"g":0,"h":0,"i":0,"j":0,"k":0},
      {"t":54,"b":21,"c":18,"d":15.6,"e":10.1,"f":8.6,"g":7.2,"h":3.9,"i":3,"j":2.3,"k":1.5},
      {"t":56,"b":32.2,"c":27.6,"d":23.9,"e":19.1,"f":16.2,"g":13.6,"h":9.8,"i":7.5,"j":5.6,"k":3.8},
      {"t":61,"b":35,"c":30,"d":26,"e":22.5,"f":19,"g":16,"h":13,"i":10,"j":7.5,"k":5},
      {"t":66,"b":31.5,"c":27,"d":23.4,"e":18.5,"f":15.6,"g":13.1,"h":9.4,"i":7.2,"j":5.4,"k":3.6},
      {"t":68,"b":21,"c":18,"d":15.6,"e":10.1,"f":8.6,"g":7.2,"h":3.6,"i":2.8,"j":2.1,"k":1.4},
      {"t":70,"b":2.8,"c":2.4,"d":2.1,"e":0,"f":0,"g":0,"h":0,"i":0,"j":0,"k":0},
      {"t":76,"b":0,"c":0,"d":0,"e":0,"f":0,"g":0,"h":0,"i":0,"j":0,"k":0},
      {"t":78,"b":21,"c":18,"d":15.6,"e":10.1,"f":8.6,"g":7.2,"h":3.9,"i":3,"j":2.3,"k":1.5},
      {"t":80,"b":32.2,"c":27.6,"d":23.9,"e":19.1,"f":16.2,"g":13.6,"h":9.8,"i":7.5,"j":5.6,"k":3.8},
      {"t":85,"b":35,"c":30,"d":26,"e":22.5,"f":19,"g":16,"h":13,"i":10,"j":7.5,"k":5},
      {"t":90,"b":31.5,"c":27,"d":23.4,"e":18.5,"f":15.6,"g":13.1,"h":9.4,"i":7.2,"j":5.4,"k":3.6},
      {"t":92,"b":21,"c":18,"d":15.6,"e":10.1,"f":8.6,"g":7.2,"h":3.6,"i":2.8,"j":2.1,"k":1.4},
      {"t":94,"b":2.8,"c":2.4,"d":2.1,"e":0,"f":0,"g":0,"h":0,"i":0,"j":0,"k":0},
      {"t":100,"b":0,"c":0,"d":0,"e":0,"f":0,"g":0,"h":0,"i":0,"j":0,"k":0},
      {"t":102,"b":22.2,"c":19.2,"d":16.8,"e":11,"f":9.5,"g":8.1,"h":4.5,"i":3.6,"j":2.7,"k":2},
      {"t":104,"b":34,"c":29.4,"d":25.8,"e":20.8,"f":17.9,"g":15.3,"h":11.3,"i":9,"j":6.8,"k":4.9},
      {"t":109,"b":37,"c":32,"d":28,"e":24.5,"f":21,"g":18,"h":15,"i":12,"j":9,"k":6.5},
      {"t":114,"b":33.3,"c":28.8,"d":25.2,"e":20.1,"f":17.2,"g":14.8,"h":10.8,"i":8.6,"j":6.5,"k":4.7},
      {"t":116,"b":22.2,"c":19.2,"d":16.8,"e":11,"f":9.5,"g":8.1,"h":4.2,"i":3.4,"j":2.5,"k":1.8},
      {"t":118,"b":3,"c":2.6,"d":2.2,"e":0,"f":0,"g":0,"h":0,"i":0,"j":0,"k":0},
      {"t":124,"b":0,"c":0,"d":0,"e":0,"f":0,"g":0,"h":0,"i":0,"j":0,"k":0},
      {"t":126,"b":22.8,"c":19.8,"d":17.4,"e":11.7,"f":10.1,"g":8.8,"h":5,"i":4.1,"j":3.2,"k":2.4},
      {"t":128,"b":35,"c":30.4,"d":26.7,"e":22.1,"f":19.1,"g":16.6,"h":12.4,"i":10.1,"j":7.9,"k":6},
      {"t":133,"b":38,"c":33,"d":29,"e":26,"f":22.5,"g":19.5,"h":16.5,"i":13.5,"j":10.5,"k":8},
      {"t":138,"b":34.2,"c":29.7,"d":26.1,"e":21.3,"f":18.5,"g":16,"h":11.9,"i":9.7,"j":7.6,"k":5.8},
      {"t":140,"b":22.8,"c":19.8,"d":17.4,"e":11.7,"f":10.1,"g":8.8,"h":4.6,"i":3.8,"j":2.9,"k":2.2},
      {"t":142,"b":3,"c":2.6,"d":2.3,"e":0,"f":0,"g":0,"h":0,"i":0,"j":0,"k":0},
      {"t":148,"b":0,"c":0,"d":0,"e":0,"f":0,"g":0,"h":0,"i":0,"j":0,"k":0},
      {"t":150,"b":22.2,"c":19.2,"d":16.8,"e":11,"f":9.5,"g":8.1,"h":4.5,"i":3.6,"j":2.7,"k":2},
      {"t":152,"b":34,"c":29.4,"d":25.8,"e":20.8,"f":17.9,"g":15.3,"h":11.3,"i":9,"j":6.8,"k":4.9},
      {"t":157,"b":37,"c":32,"d":28,"e":24.5,"f":21,"g":18,"h":15,"i":12,"j":9,"k":6.5},
      {"t":162,"b":33.3,"c":28.8,"d":25.2,"e":20.1,"f":17.2,"g":14.8,"h":10.8,"i":8.6,"j":6.5,"k":4.7},
      {"t":164,"b":22.2,"c":19.2,"d":16.8,"e":11,"f":9.5,"g":8.1,"h":4.2,"i":3.4,"j":2.5,"k":1.8},
      {"t":166,"b":3,"c":2.6,"d":2.2,"e":0,"f":0,"g":0,"h":0,"i":0,"j":0,"k":0},
      {"t":167,"b":0,"c":0,"d":0,"e":0,"f":0,"g":0,"h":0,"i":0,"j":0,"k":0}
    ],
    "b5": [
      {"t":0,"b":0,"c":0,"d":0,"e":0,"f":0,"g":0,"h":0,"i":0,"j":0,"k":0},
      {"t":4,"b":0,"c":0,"d":0,"e":0,"f":0,"g":0,"h":0,"i":0,"j":0,"k":0},
      {"t":6,"b":26.4,"c":22.8,"d":19.8,"e":12.6,"f":10.8,"g":9,"h":4.8,"i":3.8,"j":2.7,"k":1.8},
      {"t":8,"b":40.5,"c":35,"d":30.4,"e":23.8,"f":20.4,"g":17,"h":12,"i":9.4,"j":6.8,"k":4.5},
      {"t":13,"b":44,"c":38,"d":33,"e":28,"f":24,"g":20,"h":16,"i":12.5,"j":9,"k":6},
      {"t":18,"b":39.6,"c":34.2,"d":29.7,"e":23,"f":19.7,"g":16.4,"h":11.5,"i":9,"j":6.5,"k":4.3},
      {"t":20,"b":26.4,"c":22.8,"d":19.8,"e":12.6,"f":10.8,"g":9,"h":4.5,"i":3.5,"j":2.5,"k":1.7},
      {"t":22,"b":3.5,"c":3,"d":2.6,"e":0,"f":0,"g":0,"h":0,"i":0,"j":0,"k":0},
      {"t":28,"b":0,"c":0,"d":0,"e":0,"f":0,"g":0,"h":0,"i":0,"j":0,"k":0},
      {"t":30,"b":24,"c":21,"d":18,"e":11.7,"f":9.9,"g":8.1,"h":4.4,"i":3.3,"j":2.4,"k":1.5},
      {"t":32,"b":36.8,"c":32.2,"d":27.6,"e":22.1,"f":18.7,"g":15.3,"h":10.9,"i":8.3,"j":6,"k":3.8},
      {"t":37,"b":40,"c":35,"d":30,"e":26,"f":22,"g":18,"h":14.5,"i":11,"j":8,"k":5},
      {"t":42,"b":36,"c":31.5,"d":27,"e":21.3,"f":18,"g":14.8,"h":10.4,"i":7.9,"j":5.8,"k":3.6},
      {"t":44,"b":24,"c":21,"d":18,"e":11.7,"f":9.9,"g":8.1,"h":4.1,"i":3.1,"j":2.2,"k":1.4},
      {"t":46,"b":3.2,"c":2.8,"d":2.4,"e":0,"f":0,"g":0,"h":0,"i":0,"j":0,"k":0},
      {"t":52,"b":0,"c":0,"d":0,"e":0,"f":0,"g":0,"h":0,"i":0,"j":0,"k":0},
      {"t":54,"b":24.6,"c":21.6,"d":18.6,"e":11.9,"f":10.1,"g":8.3,"h":4.5,"i":3.5,"j":2.6,"k":1.7},
      {"t":56,"b":37.7,"c":33.1,"d":28.5,"e":22.5,"f":19.1,"g":15.7,"h":11.3,"i":8.6,"j":6.4,"k":4.1},
      {"t":61,"b":41,"c":36,"d":31,"e":26.5,"f":22.5,"g":18.5,"h":15,"i":11.5,"j":8.5,"k":5.5},
      {"t":66,"b":36.9,"c":32.4,"d":27.9,"e":21.7,"f":18.5,"g":15.2,"h":10.8,"i":8.3,"j":6.1,"k":4},
      {"t":68,"b":24.6,"c":21.6,"d":18.6,"e":11.9,"f":10.1,"g":8.3,"h":4.2,"i":3.2,"j":2.4,"k":1.5},
      {"t":70,"b":3.3,"c":2.9,"d":2.5,"e":0,"f":0,"g":0,"h":0,"i":0,"j":0,"k":0},
      {"t":76,"b":0,"c":0,"d":0,"e":0,"f":0,"g":0,"h":0,"i":0,"j":0,"k":0},
      {"t":78,"b":25.5,"c":22.2,"d":19.2,"e":12.4,"f":10.6,"g":8.8,"h":4.8,"i":3.8,"j":2.7,"k":1.8},
      {"t":80,"b":39.1,"c":34,"d":29.4,"e":23.4,"f":20,"g":16.6,"h":12,"i":9.4,"j":6.8,"k":4.5},
      {"t":85,"b":42.5,"c":37,"d":32,"e":27.5,"f":23.5,"g":19.5,"h":16,"i":12.5,"j":9,"k":6},
      {"t":90,"b":38.3,"c":33.3,"d":28.8,"e":22.6,"f":19.3,"g":16,"h":11.5,"i":9,"j":6.5,"k":4.3},
      {"t":92,"b":25.5,"c":22.2,"d":19.2,"e":12.4,"f":10.6,"g":8.8,"h":4.5,"i":3.5,"j":2.5,"k":1.7},
      {"t":94,"b":3.4,"c":3,"d":2.6,"e":0,"f":0,"g":0,"h":0,"i":0,"j":0,"k":0},
      {"t":100,"b":0,"c":0,"d":0,"e":0,"f":0,"g":0,"h":0,"i":0,"j":0,"k":0},
      {"t":102,"b":26.4,"c":23.4,"d":20.4,"e":13.3,"f":11.5,"g":9.7,"h":5.4,"i":4.4,"j":3.3,"k":2.4},
      {"t":104,"b":40.5,"c":35.9,"d":31.3,"e":25.1,"f":21.7,"g":18.3,"h":13.5,"i":10.9,"j":8.3,"k":6},
      {"t":109,"b":44,"c":39,"d":34,"e":29.5,"f":25.5,"g":21.5,"h":18,"i":14.5,"j":11,"k":8},
      {"t":114,"b":39.6,"c":35.1,"d":30.6,"e":24.2,"f":20.9,"g":17.6,"h":13,"i":10.4,"j":7.9,"k":5.8},
      {"t":116,"b":26.4,"c":23.4,"d":20.4,"e":13.3,"f":11.5,"g":9.7,"h":5,"i":4.1,"j":3.1,"k":2.2},
      {"t":118,"b":3.5,"c":3.1,"d":2.7,"e":0,"f":0,"g":0,"h":0,"i":0,"j":0,"k":0},
      {"t":124,"b":0,"c":0,"d":0,"e":0,"f":0,"g":0,"h":0,"i":0,"j":0,"k":0},
      {"t":126,"b":28.8,"c":25.8,"d":22.8,"e":15.1,"f":13.1,"g":11.3,"h":6.3,"i":5.1,"j":3.9,"k":2.9},
      {"t":128,"b":44.2,"c":39.6,"d":35,"e":28.5,"f":24.7,"g":21.3,"h":15.8,"i":12.8,"j":9.8,"k":7.1},
      {"t":133,"b":48,"c":43,"d":38,"e":33.5,"f":29,"g":25,"h":21,"i":17,"j":13,"k":9.5},
      {"t":138,"b":43.2,"c":38.7,"d":34.2,"e":27.5,"f":23.8,"g":20.5,"h":15.1,"i":12.2,"j":9.4,"k":6.8},
      {"t":140,"b":28.8,"c":25.8,"d":22.8,"e":15.1,"f":13.1,"g":11.3,"h":5.9,"i":4.8,"j":3.6,"k":2.7},
      {"t":142,"b":3.8,"c":3.4,"d":3,"e":0,"f":0,"g":0,"h":0,"i":0,"j":0,"k":0},
      {"t":148,"b":0,"c":0,"d":0,"e":0,"f":0,"g":0,"h":0,"i":0,"j":0,"k":0},
      {"t":150,"b":30.6,"c":27,"d":24,"e":15.8,"f":13.7,"g":11.7,"h":6.6,"i":5.4,"j":4.2,"k":3.2},
      {"t":152,"b":46.9,"c":41.4,"d":36.8,"e":29.8,"f":25.9,"g":22.1,"h":16.5,"i":13.5,"j":10.5,"k":7.9},
      {"t":157,"b":51,"c":45,"d":40,"e":35,"f":30.5,"g":26,"h":22,"i":18,"j":14,"k":10.5},
      {"t":162,"b":45.9,"c":40.5,"d":36,"e":28.7,"f":25,"g":21.3,"h":15.8,"i":13,"j":10.1,"k":7.6},
      {"t":164,"b":30.6,"c":27,"d":24,"e":15.8,"f":13.7,"g":11.7,"h":6.2,"i":5,"j":3.9,"k":2.9},
      {"t":166,"b":4.1,"c":3.6,"d":3.2,"e":0,"f":0,"g":0,"h":0,"i":0,"j":0,"k":0},
      {"t":167,"b":0,"c":0,"d":0,"e":0,"f":0,"g":0,"h":0,"i":0,"j":0,"k":0}
    ]
  },
  "vconcat": [
    {
      "width": 341, "height": 53,
      "encoding": {
        "x": {"field": "t", "type": "quantitative", "scale": {"domain": [0, 167], "nice": false, "zero": false},
              "axis": {"values": [0, 24, 48, 72, 96, 120, 144], "labelExpr": "['Mon','Tue','Wed','Thu','Fri','Sat','Sun'][round(datum.value/24)] + ' 00:00'", "title": "Weekly aggregation", "titleFontSize": 5.4, "titlePadding": 1}},
        "y": {"field": "v", "type": "quantitative", "stack": null, "scale": {"domain": [0, 30.6], "nice": false},
              "axis": {"values": [0, 10, 20, 30], "title": ["Decilies of EVSE", "power (assuming", "average power) in", "kW for 4 kW ≤ P <", "12 kW"], "titleLineHeight": 6.3, "titlePadding": 2}}
      },
      "layer": [
        {"data": {"name": "e1"}, "mark": {"type": "area"},
         "encoding": {
           "color": {"datum": "a", "scale": {"domain": ["a","b","c","d","e","f","g","h","i","j","k"], "range": ["#e5e5fb","#ccccf8","#b3b3f5","#9999f3","#8080f2","#6666f2","#4d4df3","#3333f5","#1a1af8","#0808fc","#0000ff"]},
                     "legend": {"orient": "none", "legendX": 343, "legendY": -23.5, "title": " ", "symbolType": "M-1,-0.6H3V0.6H-1Z", "strokeColor": "#cccccc", "labelExpr": "{'a':'100.0%','b':'97.5%','c':'95.0%','d':'92.5%','e':'90.0%','f':'87.5%','g':'85.0%','h':'82.5%','i':'80.0%','j':'77.5%','k':'75.0%'}[datum.label]"}}
         }},
        {"data": {"name": "b1"}, "transform": [{"fold": ["b","c","d","e","f","g","h","i","j","k"], "as": ["q", "v"]}],
         "mark": {"type": "area", "interpolate": "monotone"},
         "encoding": {
           "color": {"field": "q", "type": "nominal", "scale": {"domain": ["a","b","c","d","e","f","g","h","i","j","k"], "range": ["#e5e5fb","#ccccf8","#b3b3f5","#9999f3","#8080f2","#6666f2","#4d4df3","#3333f5","#1a1af8","#0808fc","#0000ff"]},
                     "legend": {"orient": "none", "legendX": 343, "legendY": -23.5, "title": " ", "symbolType": "M-1,-0.6H3V0.6H-1Z", "strokeColor": "#cccccc", "labelExpr": "{'a':'100.0%','b':'97.5%','c':'95.0%','d':'92.5%','e':'90.0%','f':'87.5%','g':'85.0%','h':'82.5%','i':'80.0%','j':'77.5%','k':'75.0%'}[datum.label]"}}
         }},
        {"data": {"name": "m0"}, "mark": {"type": "line", "strokeWidth": 1},
         "encoding": {
           "stroke": {"datum": "Median", "scale": {"domain": ["Median"], "range": ["#ff2020"]},
                      "legend": {"orient": "none", "legendX": 343, "legendY": -23.5, "title": null, "symbolType": "M-1,0H3", "symbolStrokeWidth": 1.2}}
         }}
      ]
    },
    {
      "width": 341, "height": 53,
      "encoding": {
        "x": {"field": "t", "type": "quantitative", "scale": {"domain": [0, 167], "nice": false, "zero": false},
              "axis": {"values": [0, 24, 48, 72, 96, 120, 144], "labelExpr": "['Mon','Tue','Wed','Thu','Fri','Sat','Sun'][round(datum.value/24)] + ' 00:00'", "title": "Weekly aggregation", "titleFontSize": 5.4, "titlePadding": 1}},
        "y": {"field": "v", "type": "quantitative", "stack": null, "scale": {"domain": [0, 51], "nice": false},
              "axis": {"values": [0, 20, 40], "title": ["Decilies of EVSE", "power (assuming", "average power) in", "kW for 12 kW ≤ P <", "25 kW"], "titleLineHeight": 6.3, "titlePadding": 2}}
      },
      "layer": [
        {"data": {"name": "e2"}, "mark": {"type": "area"},
         "encoding": {
           "color": {"datum": "a", "scale": {"domain": ["a","b","c","d","e","f","g","h","i","j","k"], "range": ["#e5e5fb","#ccccf8","#b3b3f5","#9999f3","#8080f2","#6666f2","#4d4df3","#3333f5","#1a1af8","#0808fc","#0000ff"]},
                     "legend": {"orient": "none", "legendX": 343, "legendY": -23.5, "title": " ", "symbolType": "M-1,-0.6H3V0.6H-1Z", "strokeColor": "#cccccc", "labelExpr": "{'a':'100.0%','b':'97.5%','c':'95.0%','d':'92.5%','e':'90.0%','f':'87.5%','g':'85.0%','h':'82.5%','i':'80.0%','j':'77.5%','k':'75.0%'}[datum.label]"}}
         }},
        {"data": {"name": "b2"}, "transform": [{"fold": ["b","c","d","e","f","g","h","i","j","k"], "as": ["q", "v"]}],
         "mark": {"type": "area", "interpolate": "monotone"},
         "encoding": {
           "color": {"field": "q", "type": "nominal", "scale": {"domain": ["a","b","c","d","e","f","g","h","i","j","k"], "range": ["#e5e5fb","#ccccf8","#b3b3f5","#9999f3","#8080f2","#6666f2","#4d4df3","#3333f5","#1a1af8","#0808fc","#0000ff"]},
                     "legend": {"orient": "none", "legendX": 343, "legendY": -23.5, "title": " ", "symbolType": "M-1,-0.6H3V0.6H-1Z", "strokeColor": "#cccccc", "labelExpr": "{'a':'100.0%','b':'97.5%','c':'95.0%','d':'92.5%','e':'90.0%','f':'87.5%','g':'85.0%','h':'82.5%','i':'80.0%','j':'77.5%','k':'75.0%'}[datum.label]"}}
         }},
        {"data": {"name": "m0"}, "mark": {"type": "line", "strokeWidth": 1},
         "encoding": {
           "stroke": {"datum": "Median", "scale": {"domain": ["Median"], "range": ["#ff2020"]},
                      "legend": {"orient": "none", "legendX": 343, "legendY": -23.5, "title": null, "symbolType": "M-1,0H3", "symbolStrokeWidth": 1.2}}
         }}
      ]
    },
    {
      "width": 341, "height": 53,
      "encoding": {
        "x": {"field": "t", "type": "quantitative", "scale": {"domain": [0, 167], "nice": false, "zero": false},
              "axis": {"values": [0, 24, 48, 72, 96, 120, 144], "labelExpr": "['Mon','Tue','Wed','Thu','Fri','Sat','Sun'][round(datum.value/24)] + ' 00:00'", "title": "Weekly aggregation", "titleFontSize": 5.4, "titlePadding": 1}},
        "y": {"field": "v", "type": "quantitative", "stack": null, "scale": {"domain": [0, 70.7], "nice": false},
              "axis": {"values": [0, 20, 40, 60], "title": ["Decilies of EVSE", "power (assuming", "average power) in", "kW for 25 kW ≤ P <", "100 kW"], "titleLineHeight": 6.3, "titlePadding": 2}}
      },
      "layer": [
        {"data": {"name": "e3"}, "mark": {"type": "area"},
         "encoding": {
           "color": {"datum": "a", "scale": {"domain": ["a","b","c","d","e","f","g","h","i","j","k"], "range": ["#e5e5fb","#ccccf8","#b3b3f5","#9999f3","#8080f2","#6666f2","#4d4df3","#3333f5","#1a1af8","#0808fc","#0000ff"]},
                     "legend": {"orient": "none", "legendX": 343, "legendY": -23.5, "title": " ", "symbolType": "M-1,-0.6H3V0.6H-1Z", "strokeColor": "#cccccc", "labelExpr": "{'a':'100.0%','b':'98.0%','c':'96.0%','d':'94.0%','e':'92.0%','f':'90.0%','g':'88.0%','h':'86.0%','i':'84.0%','j':'82.0%','k':'80.0%'}[datum.label]"}}
         }},
        {"data": {"name": "b3"}, "transform": [{"fold": ["b","c","d","e","f","g","h","i","j","k"], "as": ["q", "v"]}],
         "mark": {"type": "area", "interpolate": "monotone"},
         "encoding": {
           "color": {"field": "q", "type": "nominal", "scale": {"domain": ["a","b","c","d","e","f","g","h","i","j","k"], "range": ["#e5e5fb","#ccccf8","#b3b3f5","#9999f3","#8080f2","#6666f2","#4d4df3","#3333f5","#1a1af8","#0808fc","#0000ff"]},
                     "legend": {"orient": "none", "legendX": 343, "legendY": -23.5, "title": " ", "symbolType": "M-1,-0.6H3V0.6H-1Z", "strokeColor": "#cccccc", "labelExpr": "{'a':'100.0%','b':'98.0%','c':'96.0%','d':'94.0%','e':'92.0%','f':'90.0%','g':'88.0%','h':'86.0%','i':'84.0%','j':'82.0%','k':'80.0%'}[datum.label]"}}
         }},
        {"data": {"name": "m0"}, "mark": {"type": "line", "strokeWidth": 1},
         "encoding": {
           "stroke": {"datum": "Median", "scale": {"domain": ["Median"], "range": ["#ff2020"]},
                      "legend": {"orient": "none", "legendX": 343, "legendY": -23.5, "title": null, "symbolType": "M-1,0H3", "symbolStrokeWidth": 1.2}}
         }}
      ]
    },
    {
      "width": 341, "height": 53,
      "encoding": {
        "x": {"field": "t", "type": "quantitative", "scale": {"domain": [0, 167], "nice": false, "zero": false},
              "axis": {"values": [0, 24, 48, 72, 96, 120, 144], "labelExpr": "['Mon','Tue','Wed','Thu','Fri','Sat','Sun'][round(datum.value/24)] + ' 00:00'", "title": "Weekly aggregation", "titleFontSize": 5.4, "titlePadding": 1}},
        "y": {"field": "v", "type": "quantitative", "stack": null, "scale": {"domain": [0, 77.5], "nice": false},
              "axis": {"values": [0, 20, 40, 60], "title": ["Decilies of EVSE", "power (assuming", "average power) in", "kW for 100 kW ≤ P <", "200 kW"], "titleLineHeight": 6.3, "titlePadding": 2}}
      },
      "layer": [
        {"data": {"name": "e4"}, "mark": {"type": "area"},
         "encoding": {
           "color": {"datum": "a", "scale": {"domain": ["a","b","c","d","e","f","g","h","i","j","k"], "range": ["#e5e5fb","#ccccf8","#b3b3f5","#9999f3","#8080f2","#6666f2","#4d4df3","#3333f5","#1a1af8","#0808fc","#0000ff"]},
                     "legend": {"orient": "none", "legendX": 343, "legendY": -23.5, "title": " ", "symbolType": "M-1,-0.6H3V0.6H-1Z", "strokeColor": "#cccccc", "labelExpr": "{'a':'100.0%','b':'97.5%','c':'95.0%','d':'92.5%','e':'90.0%','f':'87.5%','g':'85.0%','h':'82.5%','i':'80.0%','j':'77.5%','k':'75.0%'}[datum.label]"}}
         }},
        {"data": {"name": "b4"}, "transform": [{"fold": ["b","c","d","e","f","g","h","i","j","k"], "as": ["q", "v"]}],
         "mark": {"type": "area", "interpolate": "monotone"},
         "encoding": {
           "color": {"field": "q", "type": "nominal", "scale": {"domain": ["a","b","c","d","e","f","g","h","i","j","k"], "range": ["#e5e5fb","#ccccf8","#b3b3f5","#9999f3","#8080f2","#6666f2","#4d4df3","#3333f5","#1a1af8","#0808fc","#0000ff"]},
                     "legend": {"orient": "none", "legendX": 343, "legendY": -23.5, "title": " ", "symbolType": "M-1,-0.6H3V0.6H-1Z", "strokeColor": "#cccccc", "labelExpr": "{'a':'100.0%','b':'97.5%','c':'95.0%','d':'92.5%','e':'90.0%','f':'87.5%','g':'85.0%','h':'82.5%','i':'80.0%','j':'77.5%','k':'75.0%'}[datum.label]"}}
         }},
        {"data": {"name": "m0"}, "mark": {"type": "line", "strokeWidth": 1},
         "encoding": {
           "stroke": {"datum": "Median", "scale": {"domain": ["Median"], "range": ["#ff2020"]},
                      "legend": {"orient": "none", "legendX": 343, "legendY": -23.5, "title": null, "symbolType": "M-1,0H3", "symbolStrokeWidth": 1.2}}
         }}
      ]
    },
    {
      "width": 341, "height": 53,
      "encoding": {
        "x": {"field": "t", "type": "quantitative", "scale": {"domain": [0, 167], "nice": false, "zero": false},
              "axis": {"values": [0, 24, 48, 72, 96, 120, 144], "labelExpr": "['Mon','Tue','Wed','Thu','Fri','Sat','Sun'][round(datum.value/24)] + ' 00:00'", "title": "Weekly aggregation", "titleFontSize": 5.4, "titlePadding": 1}},
        "y": {"field": "v", "type": "quantitative", "stack": null, "scale": {"domain": [0, 94], "nice": false},
              "axis": {"values": [0, 25, 50, 75], "title": ["Decilies of EVSE power", "(assuming average", "power) in kW for P ≥", "200 kW"], "titleLineHeight": 6.3, "titlePadding": 2}}
      },
      "layer": [
        {"data": {"name": "e5"}, "mark": {"type": "area"},
         "encoding": {
           "color": {"datum": "a", "scale": {"domain": ["a","b","c","d","e","f","g","h","i","j","k"], "range": ["#e5e5fb","#ccccf8","#b3b3f5","#9999f3","#8080f2","#6666f2","#4d4df3","#3333f5","#1a1af8","#0808fc","#0000ff"]},
                     "legend": {"orient": "none", "legendX": 343, "legendY": -23.5, "title": " ", "symbolType": "M-1,-0.6H3V0.6H-1Z", "strokeColor": "#cccccc", "labelExpr": "{'a':'100.0%','b':'94.5%','c':'89.0%','d':'83.5%','e':'78.0%','f':'72.5%','g':'67.0%','h':'61.5%','i':'56.0%','j':'50.5%','k':'45.0%'}[datum.label]"}}
         }},
        {"data": {"name": "b5"}, "transform": [{"fold": ["b","c","d","e","f","g","h","i","j","k"], "as": ["q", "v"]}],
         "mark": {"type": "area", "interpolate": "monotone"},
         "encoding": {
           "color": {"field": "q", "type": "nominal", "scale": {"domain": ["a","b","c","d","e","f","g","h","i","j","k"], "range": ["#e5e5fb","#ccccf8","#b3b3f5","#9999f3","#8080f2","#6666f2","#4d4df3","#3333f5","#1a1af8","#0808fc","#0000ff"]},
                     "legend": {"orient": "none", "legendX": 343, "legendY": -23.5, "title": " ", "symbolType": "M-1,-0.6H3V0.6H-1Z", "strokeColor": "#cccccc", "labelExpr": "{'a':'100.0%','b':'94.5%','c':'89.0%','d':'83.5%','e':'78.0%','f':'72.5%','g':'67.0%','h':'61.5%','i':'56.0%','j':'50.5%','k':'45.0%'}[datum.label]"}}
         }},
        {"data": {"name": "m5"}, "mark": {"type": "line", "strokeWidth": 1, "interpolate": "monotone"},
         "encoding": {
           "stroke": {"datum": "Median", "scale": {"domain": ["Median"], "range": ["#ff2020"]},
                      "legend": {"orient": "none", "legendX": 343, "legendY": -23.5, "title": null, "symbolType": "M-1,0H3", "symbolStrokeWidth": 1.2}}
         }}
      ]
    }
  ]
}
